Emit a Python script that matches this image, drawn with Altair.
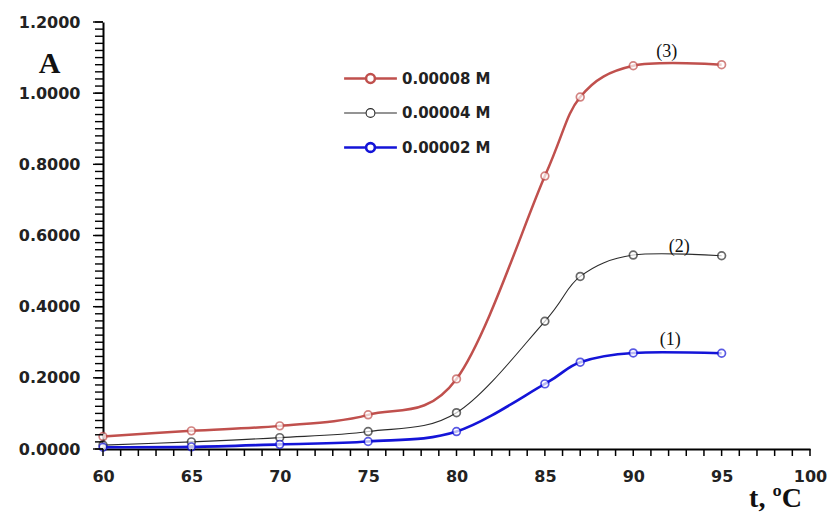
import altair as alt
import pandas as pd

# ---- data ----
temps = [60, 65, 70, 75, 80, 85, 87, 90, 95]
series_names = ["0.00008 M", "0.00004 M", "0.00002 M"]
a_8 = [0.035, 0.051, 0.065, 0.096, 0.197, 0.767, 0.989, 1.077, 1.080]
a_4 = [0.011, 0.020, 0.032, 0.049, 0.102, 0.359, 0.485, 0.545, 0.543]
a_2 = [0.005, 0.006, 0.013, 0.021, 0.049, 0.183, 0.244, 0.270, 0.269]
series_colors = ["#c0504d", "#2b2b2b", "#1414d8"]
series_widths = [2.5, 1.1, 2.6]

curve_labels = ["(3)", "(2)", "(1)"]
label_t = [91.9, 92.6, 92.1]
label_a = [1.116, 0.568, 0.306]

x_ticks = list(range(60, 101))
y_ticks = [round(i * 0.02, 2) for i in range(61)]
y_major = [round(i * 0.2, 1) for i in range(7)]

rows = []
for name, vals in zip(series_names, [a_8, a_4, a_2]):
    for t, v in zip(temps, vals):
        rows.append({"t": t, "A": v, "series": name})
df = pd.DataFrame(rows)
lab_df = pd.DataFrame({"t": label_t, "A": label_a, "lab": curve_labels})
xt_df = pd.DataFrame({"t": x_ticks})
yt_df = pd.DataFrame({"A": y_ticks})
ym_df = pd.DataFrame({"A": y_major})

FONT = "DejaVu Sans"
SERIF = "Liberation Serif"
H = 427
W = 707

major_y = "abs(datum.value*5 - round(datum.value*5)) < 0.000001"

x_enc = alt.X(
    "t:Q",
    scale=alt.Scale(domain=[60, 100], nice=False, zero=False),
    axis=alt.Axis(
        values=x_ticks, tickCount=len(x_ticks),
        labelExpr="datum.value % 5 == 0 ? datum.label : ''",
        title="t, ºC",
        titleFont=SERIF, titleFontSize=28, titleFontWeight="bold", titleColor="#111",
        titleX=672, titleY=57, titleAlign="center", titleBaseline="alphabetic",
        labelFont=FONT, labelFontSize=16, labelFontWeight="bold", labelColor="#222",
        labelPadding=19, labelFlush=False, labelOverlap=False,
        ticks=False, tickSize=7,
        domainColor="#000", domainWidth=2, grid=False,
    ),
)
y_enc = alt.Y(
    "A:Q",
    scale=alt.Scale(domain=[0, 1.2], nice=False),
    axis=alt.Axis(
        values=y_ticks, tickCount=len(y_ticks),
        labelExpr=major_y + " ? format(datum.value, '.4f') : ''",
        title="A",
        titleFont=SERIF, titleFontSize=30, titleFontWeight="bold", titleColor="#111",
        titleAngle=0, titleX=-54, titleY=50, titleAlign="center", titleBaseline="alphabetic",
        labelFont=FONT, labelFontSize=16, labelFontWeight="bold", labelColor="#222",
        labelPadding=23, labelFlush=False, labelOverlap=False,
        ticks=False, tickSize=8,
        domainColor="#000", domainWidth=2, grid=False,
    ),
)

sym_path = "M-3.3,0H-0.55M0.55,0H3.3M0.55,0A0.55,0.55 0 1,1 -0.55,0A0.55,0.55 0 1,1 0.55,0"
legend = alt.Legend(
    title=None, orient="none", legendX=258, legendY=47, padding=0,
    symbolType=sym_path, symbolSize=256, labelOffset=22, rowPadding=16,
    labelFont=FONT, labelFontSize=15, labelFontWeight="bold", labelColor="#222",
)

color_scale = alt.Scale(domain=series_names, range=series_colors)
width_scale = alt.Scale(type="ordinal", domain=series_names, range=series_widths)

lines = alt.Chart(df).mark_line(interpolate="cardinal").encode(
    x=x_enc, y=y_enc,
    color=alt.Color("series:N", scale=color_scale, legend=legend, sort=series_names),
    strokeWidth=alt.StrokeWidth("series:N", scale=width_scale, legend=legend, sort=series_names),
)
points = alt.Chart(df).mark_point(shape="circle", filled=True, fill="white", size=60, strokeWidth=1.7).encode(
    x="t:Q", y="A:Q",
    stroke=alt.Stroke("series:N", scale=color_scale, legend=None),
)
labels = alt.Chart(lab_df).mark_text(font=SERIF, fontSize=18, color="#111", baseline="middle").encode(
    x="t:Q", y="A:Q", text="lab:N",
)

# axis tick marks (minor + major), positioned through the shared scales
x_tick_marks = alt.Chart(xt_df).mark_rule(color="#000", strokeWidth=1.5).encode(
    x="t:Q", y=alt.value(H), y2=alt.value(H + 7),
)
y_tick_marks = alt.Chart(yt_df).mark_rule(color="#000", strokeWidth=1.4).encode(
    y="A:Q", x=alt.value(-8), x2=alt.value(0),
)
y_major_marks = alt.Chart(ym_df).mark_rule(color="#000", strokeWidth=1.4).encode(
    y="A:Q", x=alt.value(-10), x2=alt.value(0),
)

chart = alt.layer(lines, points, labels, x_tick_marks, y_tick_marks, y_major_marks).properties(
    width=W, height=H,
    autosize=alt.AutoSizeParams(type="none"),
    padding={"left": 103, "top": 22, "right": 27, "bottom": 64},
    background="white",
).configure_view(stroke=None)

chart.save("out.html", embed_options={"renderer": "svg", "actions": False})
